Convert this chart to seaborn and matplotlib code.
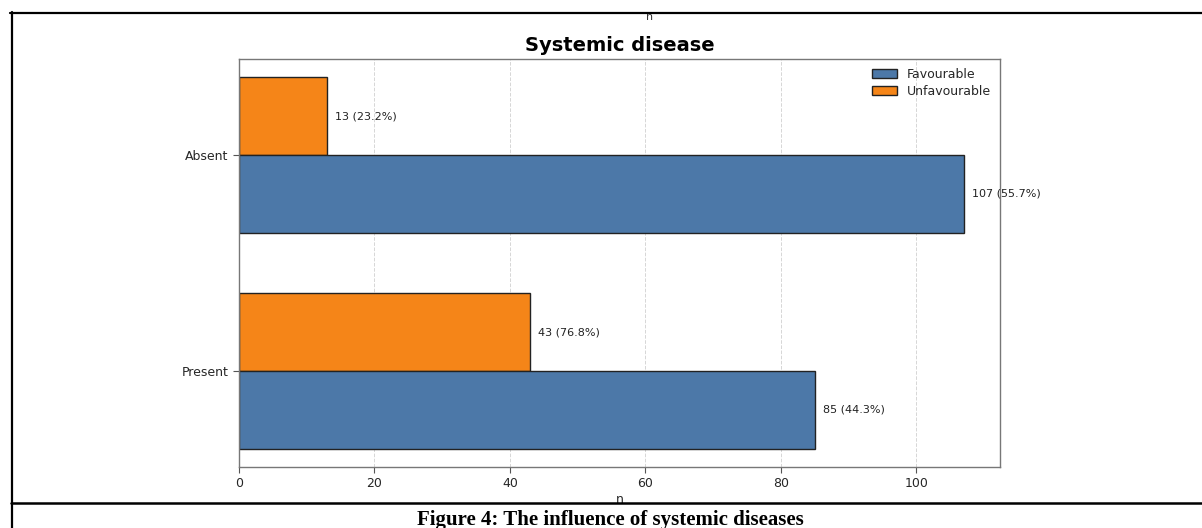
import matplotlib
matplotlib.use("Agg")
import matplotlib.pyplot as plt
from matplotlib.lines import Line2D
from matplotlib.patches import Patch
import seaborn as sns
import pandas as pd

categories = ["Absent", "Present"]
outcomes = ["Favourable", "Unfavourable"]
favourable = [107, 85]
unfavourable = [13, 43]
fav_pct = [55.7, 44.3]
unfav_pct = [23.2, 76.8]

colors = {"Favourable": "#4C78A8", "Unfavourable": "#F58518"}

rows = []
for i, c in enumerate(categories):
    rows.append({"cat": c, "outcome": "Favourable", "n": favourable[i], "pct": fav_pct[i]})
    rows.append({"cat": c, "outcome": "Unfavourable", "n": unfavourable[i], "pct": unfav_pct[i]})
df = pd.DataFrame(rows)

sns.set_style("white")
plt.rcParams["font.family"] = ["DejaVu Sans"]

fig = plt.figure(figsize=(12.02, 5.28), dpi=100)
ax = fig.add_axes([0.1988, 0.1155, 0.633, 0.7725])

sns.barplot(data=df, y="cat", x="n", hue="outcome", order=categories,
            hue_order=["Unfavourable", "Favourable"], palette=colors,
            orient="h", width=0.72, edgecolor="#222222", linewidth=1.0,
            errorbar=None, legend=False, ax=ax, saturation=1)

# value labels
for cont, name in zip(ax.containers, ["Unfavourable", "Favourable"]):
    sub = df[df.outcome == name].set_index("cat").loc[categories]
    labels = [f"{n} ({p:.1f}%)" for n, p in zip(sub["n"], sub["pct"])]
    ax.bar_label(cont, labels=labels, padding=6, fontsize=8, color="#222222")

ax.set_xlim(0, 112.35)
ax.set_ylim(1.5 - 0.056, -0.5 + 0.056)
ax.set_ylabel("")
ax.set_xlabel("n", fontsize=9, labelpad=2)
ax.set_title("Systemic disease", fontsize=14, fontweight="bold", pad=6, color="black")
ax.tick_params(axis="both", labelsize=9, length=4, color="#555555", left=True, bottom=True)
ax.xaxis.grid(True, linestyle="--", color="#cccccc", linewidth=0.7, alpha=0.8)
ax.set_axisbelow(True)
for s in ax.spines.values():
    s.set_color("#777777")
    s.set_linewidth(1.0)

handles = [Patch(facecolor=colors[o], edgecolor="#222222", label=o) for o in outcomes]
ax.legend(handles=handles, loc="upper right", frameon=False, fontsize=9,
          handlelength=2.0, handleheight=0.8, labelspacing=0.3,
          borderaxespad=0.3, handletextpad=0.8)

# document frame and extra text
W, H = 1202, 528
def fx(x): return x / W
def fy(y): return 1 - y / H
fig.add_artist(Line2D([fx(10), fx(1202)], [fy(12.5), fy(12.5)], color="black", lw=1.6))
fig.add_artist(Line2D([fx(11.5), fx(11.5)], [fy(12), fy(528)], color="black", lw=1.6))
fig.add_artist(Line2D([fx(11), fx(1202)], [fy(503), fy(503)], color="black", lw=1.8))
fig.text(fx(650), fy(17), "n", fontsize=8, ha="center", va="center", color="#333333")
fig.text(fx(610), fy(520), "Figure 4: The influence of systemic diseases",
         fontsize=15, fontweight="bold", family=["Liberation Serif"],
         ha="center", va="center", color="black")

fig.savefig("out.png", dpi=100)
